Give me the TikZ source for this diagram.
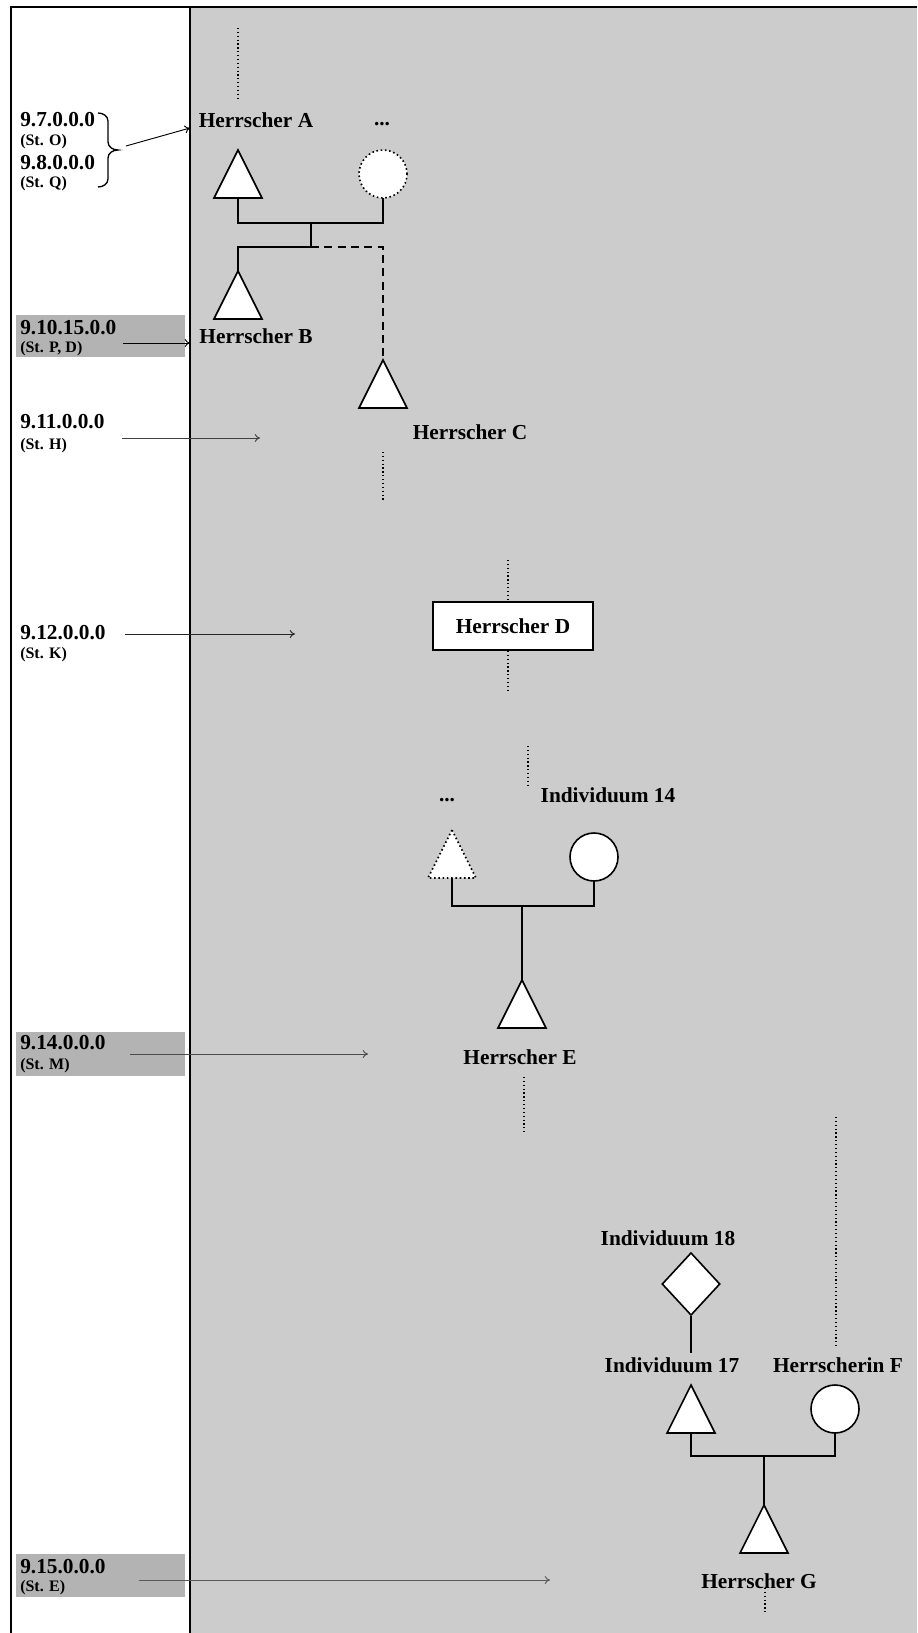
\documentclass[tikz,border=0pt]{standalone}
\usepackage{fontspec}
\setmainfont{Liberation Serif}
\usetikzlibrary{shapes.geometric,arrows.meta}
\definecolor{bgray}{HTML}{CCCCCC}
\definecolor{lgray}{HTML}{B3B3B3}
\begin{document}
\begin{tikzpicture}[x=0.75pt,y=-0.75pt,
  pname/.style={font=\bfseries\fontsize{16}{18}\selectfont, inner sep=0pt},
  dateA/.style={font=\bfseries\fontsize{16}{18}\selectfont, anchor=west, inner sep=0pt},
  dateB/.style={font=\bfseries\fontsize{12}{14}\selectfont, anchor=west, inner sep=0pt},
  male/.style={isosceles triangle, isosceles triangle stretches, shape border rotate=90,
    minimum width=36pt, minimum height=36pt, inner sep=0pt, outer sep=0pt,
    draw, fill=white, line width=1.2pt, anchor=apex},
  female/.style={circle, minimum size=36pt, inner sep=0pt, outer sep=0pt, draw, fill=white, line width=1.2pt},
  link/.style={line width=1.5pt},
  dotline/.style={dotted, line width=0.9pt},
  tarrow/.style={-{To[length=4pt,width=6pt]}, line width=0.7pt},
  gbox/.style={fill=lgray}
]
\useasboundingbox (0,0) rectangle (917,1633);
% background and frame
\fill[white] (0,0) rectangle (917,1633);
\fill[bgray] (190,7) rectangle (917,1633);
\draw[line width=2pt] (11,1633) -- (11,7) -- (917,7);
\draw[line width=2pt] (190,7) -- (190,1633);

% grey date boxes
\fill[gbox] (16,315) rectangle (185,357);
\fill[gbox] (16,1032) rectangle (185,1076);
\fill[gbox] (16,1554) rectangle (185,1597);

% date labels
\node[dateA] (d97) at (20,120) {9.7.0.0.0};
\node[dateB] (s97) at (20,142) {(St. O)};
\node[dateA] (d98) at (20,163) {9.8.0.0.0};
\node[dateB] (s98) at (20,184) {(St. Q)};
\node[dateA] (d910) at (20,328) {9.10.15.0.0};
\node[dateB] (s910) at (20,349) {(St. P, D)};
\node[dateA] (d911) at (20,422) {9.11.0.0.0};
\node[dateB] (s911) at (20,446) {(St. H)};
\node[dateA] (d912) at (20,633) {9.12.0.0.0};
\node[dateB] (s912) at (20,655) {(St. K)};
\node[dateA] (d914) at (20,1043) {9.14.0.0.0};
\node[dateB] (s914) at (20,1066) {(St. M)};
\node[dateA] (d915) at (20,1567) {9.15.0.0.0};
\node[dateB] (s915) at (20,1588) {(St. E)};

% brace
\draw[line width=1pt] (98,113) to[out=0,in=90] (108,121) -- (108,142)
  to[out=-90,in=180] (118,150) to[out=180,in=90] (108,158) -- (108,179)
  to[out=-90,in=0] (98,187);

% time arrows
\coordinate (a1s) at (126,146); \coordinate (a1e) at (190,128);
\coordinate (a2s) at (123,343); \coordinate (a2e) at (190,343);
\coordinate (a3s) at (122,438); \coordinate (a3e) at (260,438);
\coordinate (a4s) at (125,634); \coordinate (a4e) at (295,634);
\coordinate (a5s) at (130,1054); \coordinate (a5e) at (368,1054);
\coordinate (a6s) at (139,1580); \coordinate (a6e) at (550,1580);
\draw[tarrow] (a1s) -- (a1e);
\draw[tarrow] (a2s) -- (a2e);
\draw[tarrow, black!75] (a3s) -- (a3e);
\draw[tarrow, black!85] (a4s) -- (a4e);
\draw[tarrow, black!70] (a5s) -- (a5e);
\draw[tarrow, black!65] (a6s) -- (a6e);

% ---- generation A
\node[pname] (nA) at (256,120) {Herrscher A};
\node[pname] (dots1) at (382,124) {...};
\node[male] (TA) at (238,150) {};
\node[female, dotted] (CA) at (383,174) {};
\node[male] (TB) at (238,271) {};
\node[male] (TC) at (383,360) {};
\node[pname] (nB) at (256,336) {Herrscher B};
\node[pname] (nC) at (470,432) {Herrscher C};
\coordinate (mA) at (311,223);
\coordinate (cA) at (311,247);
\draw[link] (TA.lower side) |- (mA) -| (CA.south);
\draw[link] (mA) -- (cA);
\draw[link] (cA) -| (TB.apex);
\draw[link, dash pattern=on 6pt off 4pt] (cA) -| (TC.apex);
\coordinate (p1a) at (238,28); \coordinate (p1b) at (238,98);
\draw[dotline] (p1a) -- (p1b);
\coordinate (p2a) at (383,452); \coordinate (p2b) at (383,502);
\draw[dotline] (p2a) -- (p2b);

% ---- Herrscher D
\node[draw, fill=white, line width=1.5pt, minimum width=120pt, minimum height=36pt, inner sep=0pt,
  font=\bfseries\fontsize{16}{18}\selectfont] (HD) at (513,626) {Herrscher D};
\coordinate (p3a) at (508,560); \coordinate (p4b) at (508,691);
\draw[dotline] (p3a) -- (p3a |- HD.north);
\draw[dotline] (p4b |- HD.south) -- (p4b);

% ---- Herrscher E
\node[pname] (dots2) at (447,800) {...};
\node[pname] (n14) at (608,795) {Individuum 14};
\node[male, dotted] (Tx) at (452,830) {};
\node[female] (C14) at (594,857) {};
\node[male] (TE) at (522,980) {};
\node[pname] (nE) at (520,1057) {Herrscher E};
\coordinate (mE) at (522,906);
\draw[link] (Tx.lower side) |- (mE) -| (C14.south);
\draw[link] (mE) -- (TE.apex);
\coordinate (p5a) at (528,746); \coordinate (p5b) at (528,787);
\draw[dotline] (p5a) -- (p5b);
\coordinate (p6a) at (524,1077); \coordinate (p6b) at (524,1134);
\draw[dotline] (p6a) -- (p6b);

% ---- Herrscher G
\node[pname] (n18) at (668,1238) {Individuum 18};
\node[diamond, draw, fill=white, line width=1.2pt, inner sep=0pt, minimum width=43.5pt, minimum height=47pt] (D18) at (691,1284) {};
\node[pname] (n17) at (672,1365) {Individuum 17};
\node[pname] (nF) at (838,1365) {Herrscherin F};
\node[male] (T17) at (691,1385) {};
\node[female] (CF) at (835,1409) {};
\node[male] (TG) at (764,1505) {};
\node[pname] (nG) at (759,1581) {Herrscher G};
\coordinate (e18) at (691,1353);
\draw[link] (D18.south) -- (e18);
\coordinate (mG) at (764,1456);
\draw[link] (T17.lower side) |- (mG) -| (CF.south);
\draw[link] (mG) -- (TG.apex);
\coordinate (p7a) at (836,1117); \coordinate (p7b) at (836,1348);
\draw[dotline] (p7a) -- (p7b);
\coordinate (p8a) at (765,1588); \coordinate (p8b) at (765,1612);
\draw[dotline] (p8a) -- (p8b);
\end{tikzpicture}
\end{document}
